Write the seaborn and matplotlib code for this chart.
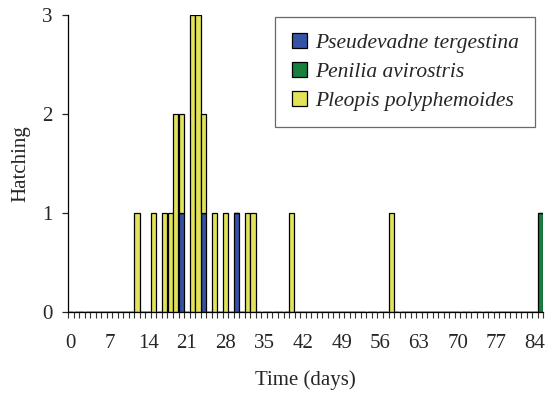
import pandas as pd
import seaborn as sns
import matplotlib.pyplot as plt
from matplotlib.patches import Patch

# Hatching events per day
species = ['Pseudevadne tergestina', 'Penilia avirostris', 'Pleopis polyphemoides']
colors = ['#3553a6', '#17803f', '#e2e35a']

pseudevadne_days = [20, 24, 30]
pseudevadne_counts = [1, 1, 1]

penilia_days = [85]
penilia_counts = [1]

pleopis_days = [12, 15, 17, 18, 19, 20, 22, 23, 24, 26, 28, 32, 33, 40, 58]
pleopis_counts = [1, 1, 1, 1, 2, 1, 3, 3, 1, 1, 1, 1, 1, 1, 1]

max_day = 85
tick_days = list(range(0, 85, 7))

rows = []
for name, days, counts in [(species[0], pseudevadne_days, pseudevadne_counts),
                           (species[1], penilia_days, penilia_counts),
                           (species[2], pleopis_days, pleopis_counts)]:
    for d, c in zip(days, counts):
        rows.append({'Day': d, 'Species': name, 'Count': c})
# anchor the full day range so bins cover 0..85
rows.append({'Day': 0, 'Species': species[2], 'Count': 0})
df = pd.DataFrame(rows)

sns.set_style('ticks')
plt.rcParams['font.family'] = ['Liberation Serif', 'DejaVu Serif']

fig = plt.figure(figsize=(5.54, 3.94), dpi=100)
ax = fig.add_axes([0.1227, 0.208, 0.858, 0.754])

# histplot stacks the last hue level at the bottom
hue_order = species[::-1]
palette = dict(zip(species, colors))
sns.histplot(data=df, x='Day', hue='Species', weights='Count',
             hue_order=hue_order, palette=palette, multiple='stack',
             discrete=True, shrink=0.96, alpha=1, edgecolor='black',
             linewidth=0.9, legend=False, ax=ax)

ax.set_xlim(-0.5, max_day + 0.5)
ax.set_ylim(0, 3)
ax.set_xticks(tick_days)
ax.set_xticklabels([str(d) for d in tick_days], fontsize=15)
ax.set_xticks([d + 0.5 for d in range(-1, max_day + 1)], minor=True)
ax.tick_params(axis='x', which='major', length=0, pad=16)
ax.tick_params(axis='x', which='minor', length=4, width=0.8, color='#333333')
ax.set_yticks([0, 1, 2, 3])
ax.tick_params(axis='y', length=4.3, width=0.9, labelsize=15, pad=7)

for side in ['top', 'right']:
    ax.spines[side].set_visible(False)
for side in ['left', 'bottom']:
    ax.spines[side].set_linewidth(0.9)
    ax.spines[side].set_color('black')

ax.set_xlabel('Time (days)', fontsize=15, labelpad=12)
ax.set_ylabel('Hatching', fontsize=15, labelpad=8)

handles = [Patch(facecolor=c, edgecolor='black', linewidth=0.9) for c in colors]
leg = ax.legend(handles, species, loc='upper right', bbox_to_anchor=(0.983, 0.993),
                frameon=True, fancybox=False, edgecolor='#444444',
                prop={'family': 'Liberation Serif', 'style': 'italic', 'size': 15.5},
                handlelength=0.7, handleheight=0.7, handletextpad=0.4,
                borderpad=0.75, labelspacing=0.4, borderaxespad=0)
leg.get_frame().set_linewidth(0.9)

fig.savefig('out.png', dpi=100)
